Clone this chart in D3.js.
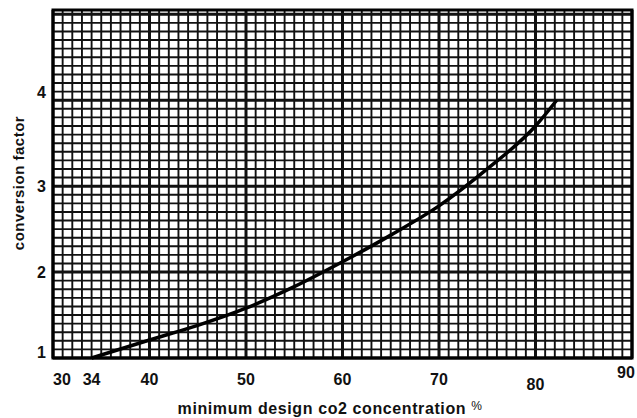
<!DOCTYPE html>
<html><head><meta charset="utf-8">
<script src="https://cdn.jsdelivr.net/npm/d3@7"></script>
<style>
html,body{margin:0;padding:0;background:#fff;}
text{font-family:"Liberation Sans",Arial,sans-serif;font-weight:bold;fill:#111;}
</style></head>
<body>
<svg id="c" width="637" height="418"></svg>
<script>
const concentration = [34, 40, 45, 50, 55, 60, 65, 70, 75, 80, 82.2];
const factor        = [1.0, 1.21, 1.38, 1.58, 1.83, 2.12, 2.43, 2.77, 3.2, 3.7, 4.0];
const xTicks = [30, 34, 40, 50, 60, 70, 80, 90];
const yTicks = [1, 2, 3, 4];
const xTitle = "minimum design co2 concentration";
const yTitle = "conversion factor";

const svg = d3.select("#c");
const L = 53, R = 632, T = 10, B = 358;
const x = d3.scaleLinear().domain([30, 90]).range([L, R]);
const y = d3.scaleLinear().domain([1, 5.05]).range([B, T]);

const g = svg.append("g");
const xMinor = d3.range(30, 90.01, 1);
const yMinor = d3.range(1, 5.05, 0.1);
g.selectAll(".vx").data(xMinor).join("line")
  .attr("x1", d => x(d)).attr("x2", d => x(d)).attr("y1", T).attr("y2", B)
  .attr("stroke", "#111").attr("stroke-width", d => Math.abs(d % 10) < 1e-6 ? 3 : 1.9);
g.selectAll(".hy").data(yMinor).join("line")
  .attr("y1", d => y(d)).attr("y2", d => y(d)).attr("x1", L).attr("x2", R)
  .attr("stroke", "#111").attr("stroke-width", d => Math.abs(d - Math.round(d)) < 1e-6 ? 3 : 1.9);

g.append("rect").attr("x", L).attr("y", T).attr("width", R - L).attr("height", B - T)
  .attr("fill", "none").attr("stroke", "#000").attr("stroke-width", 3);

const line = d3.line().x((d, i) => x(concentration[i])).y(d => y(d)).curve(d3.curveMonotoneX);
g.append("path").datum(factor).attr("d", line)
  .attr("fill", "none").attr("stroke", "#000").attr("stroke-width", 3.5);

svg.selectAll(".xl").data(xTicks).join("text")
  .attr("x", d => x(d) + (d === 30 ? 9 : d === 90 ? -6 : 0))
  .attr("y", d => d === 90 ? 378 : d === 80 ? 390 : 385)
  .attr("text-anchor", "middle").attr("font-size", 16).text(d => d);

svg.selectAll(".yl").data(yTicks).join("text")
  .attr("x", 46).attr("y", d => y(d) + (d === 1 ? 0 : d === 4 ? -2 : 6))
  .attr("text-anchor", "end").attr("font-size", 16).text(d => d);

const xt = svg.append("text").attr("x", 330).attr("y", 414).attr("text-anchor", "middle")
  .attr("font-size", 16).attr("letter-spacing", 0.6).text(xTitle);
xt.append("tspan").attr("font-size", 12).attr("font-weight", "normal").attr("dx", 5).attr("dy", -4).text("%");

svg.append("text").attr("transform", "translate(24,183) rotate(-90)")
  .attr("text-anchor", "middle").attr("font-size", 15).attr("letter-spacing", 0.5).text(yTitle);
</script>
</body></html>
